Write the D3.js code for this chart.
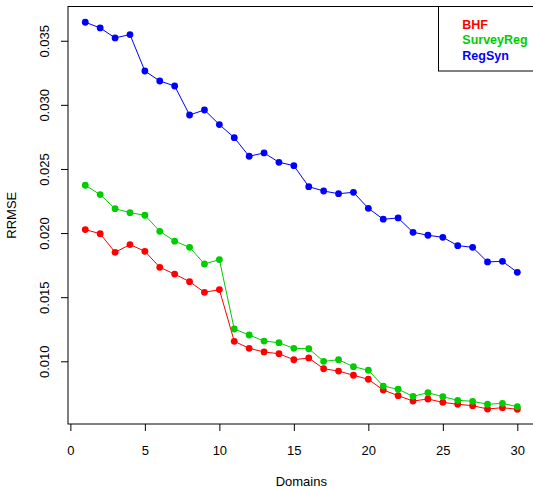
<!DOCTYPE html>
<html>
<head>
<meta charset="utf-8">
<script src="https://cdn.jsdelivr.net/npm/d3@7"></script>
<style>
body { margin: 0; background: #fff; }
svg { display: block; font-family: "Liberation Sans", Arial, Helvetica, sans-serif; }
</style>
</head>
<body>
<svg id="chart" width="533" height="487"></svg>
<script>
const domains = d3.range(1, 31);
const seriesNames = ["BHF", "SurveyReg", "RegSyn"];
const seriesColors = ["#FF0000", "#00CD00", "#0000FF"];
const bhf = [0.02027, 0.01995, 0.0185, 0.0191, 0.01858, 0.01733, 0.01680, 0.01621, 0.01538, 0.01559,
  0.01156, 0.01101, 0.01073, 0.01059, 0.01012, 0.01026, 0.00942, 0.00924, 0.00891, 0.0086,
  0.00776, 0.00732, 0.0069, 0.00706, 0.0068, 0.00665, 0.00654, 0.00628, 0.00638, 0.00626];
const surveyReg = [0.02373, 0.0230, 0.0219, 0.02159, 0.02139, 0.02014, 0.01937, 0.01889, 0.01759, 0.01793,
  0.01252, 0.01205, 0.01158, 0.01145, 0.01101, 0.01098, 0.0100, 0.01012, 0.00958, 0.0093,
  0.00807, 0.00782, 0.00727, 0.00755, 0.00724, 0.00696, 0.00688, 0.00665, 0.00672, 0.00646];
const regSyn = [0.03644, 0.0360, 0.03522, 0.03548, 0.03264, 0.03186, 0.03147, 0.02921, 0.0296, 0.02846,
  0.02744, 0.02599, 0.02625, 0.02552, 0.02526, 0.02362, 0.02328, 0.02307, 0.02318, 0.02193,
  0.02108, 0.02118, 0.02006, 0.01983, 0.01967, 0.01902, 0.01889, 0.01775, 0.0178, 0.01694];
const xTicks = [0, 5, 10, 15, 20, 25, 30];
const yTicks = [0.010, 0.015, 0.020, 0.025, 0.030, 0.035];
const xLabel = "Domains";
const yLabel = "RRMSE";

const svg = d3.select("#chart");
const plot = { left: 68, right: 534.6, top: 6.5, bottom: 424 };

const x = d3.scaleLinear().domain([-0.16, 31.16]).range([plot.left, plot.right]);
const y = d3.scaleLinear().domain([0.00511, 0.03767]).range([plot.bottom, plot.top]);

const allSeries = [bhf, surveyReg, regSyn];

// series
const line = d3.line().x((d, i) => x(domains[i])).y(d => y(d));
allSeries.forEach((vals, k) => {
  svg.append("path").datum(vals)
    .attr("d", line)
    .attr("fill", "none")
    .attr("stroke", seriesColors[k])
    .attr("stroke-width", 1);
  svg.append("g").selectAll("circle").data(vals).join("circle")
    .attr("cx", (d, i) => x(domains[i]))
    .attr("cy", d => y(d))
    .attr("r", 3.4)
    .attr("fill", seriesColors[k]);
});

// axes
const xAxis = svg.append("g")
  .attr("transform", `translate(0,${plot.bottom})`)
  .call(d3.axisBottom(x).tickValues(xTicks).tickSize(7).tickFormat(d3.format("d")));
xAxis.select(".domain").remove();
xAxis.selectAll("line").attr("stroke", "#000");
xAxis.selectAll("text").attr("y", 31).attr("dy", 0)
  .attr("font-size", 13).attr("fill", "#000")
  .attr("font-family", "Liberation Sans, Arial, sans-serif");

const yAxis = svg.append("g")
  .attr("transform", `translate(${plot.left},0)`)
  .call(d3.axisLeft(y).tickValues(yTicks).tickSize(7).tickFormat(d3.format(".3f")));
yAxis.select(".domain").remove();
yAxis.selectAll("line").attr("stroke", "#000");
yAxis.selectAll("text")
  .attr("x", 0).attr("dy", 0)
  .attr("transform", "translate(-19,0) rotate(-90)")
  .attr("text-anchor", "middle")
  .attr("font-size", 13).attr("fill", "#000")
  .attr("font-family", "Liberation Sans, Arial, sans-serif");

// box
svg.append("rect")
  .attr("x", plot.left).attr("y", plot.top)
  .attr("width", plot.right - plot.left).attr("height", plot.bottom - plot.top)
  .attr("fill", "none").attr("stroke", "#000").attr("stroke-width", 1);

// labels
svg.append("text")
  .attr("x", (plot.left + plot.right) / 2).attr("y", 485.5)
  .attr("text-anchor", "middle").attr("font-size", 13).text(xLabel);
svg.append("text")
  .attr("transform", `translate(16,${(plot.top + plot.bottom) / 2}) rotate(-90)`)
  .attr("text-anchor", "middle").attr("font-size", 13).text(yLabel);

// legend
const lg = svg.append("g");
lg.append("rect")
  .attr("x", 438.5).attr("y", 6.5).attr("width", 110).attr("height", 64.5)
  .attr("fill", "#fff").attr("stroke", "#000").attr("stroke-width", 1);
seriesNames.forEach((n, i) => {
  lg.append("text")
    .attr("x", 462.3).attr("y", 28.7 + i * 15.5)
    .attr("font-size", 12.5).attr("font-weight", "bold")
    .attr("fill", seriesColors[i]).text(n);
});
</script>
</body>
</html>
